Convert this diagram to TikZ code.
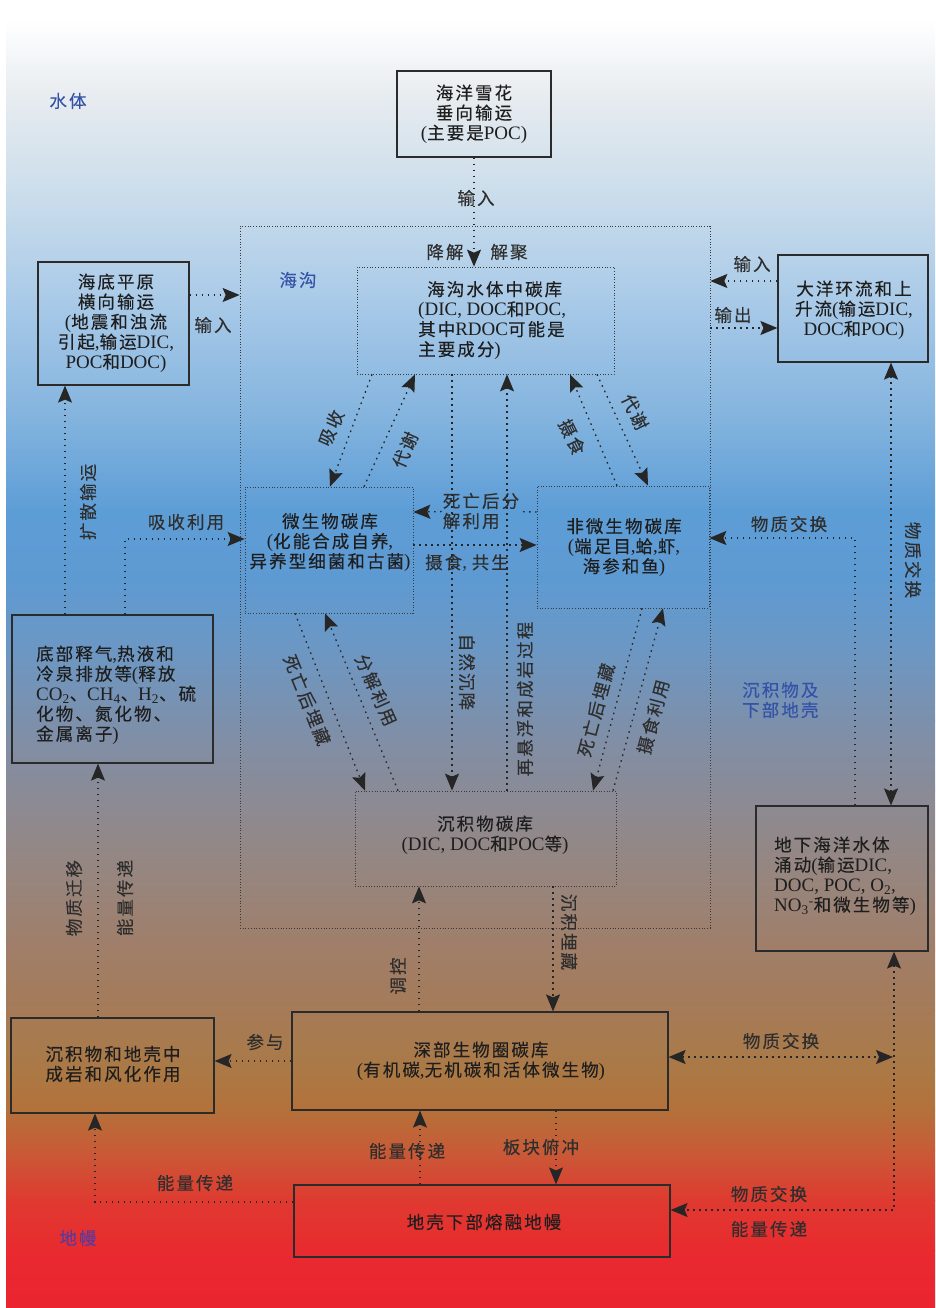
\documentclass[tikz,border=0pt]{standalone}
\usepackage{fontspec}
\setmainfont{Liberation Serif}
\newfontfamily\cjkf{Noto Sans CJK SC}[Scale=0.92, LetterSpace=12, FakeBold=0.25]
\usetikzlibrary{arrows.meta}
% automatic font switching between Latin and CJK characters
\newXeTeXintercharclass\cjkcls
\newcount\cc
\cc=0
\loop \XeTeXcharclass\cc=0 \advance\cc by 1 \ifnum\cc<"3000 \repeat
\cc="3000
\loop \XeTeXcharclass\cc=\cjkcls \advance\cc by 1 \ifnum\cc<"A000 \repeat
\cc="FF00
\loop \XeTeXcharclass\cc=\cjkcls \advance\cc by 1 \ifnum\cc<"FFF0 \repeat
\XeTeXinterchartokenstate=1
\XeTeXinterchartoks 0 \cjkcls = {\cjkf}
\XeTeXinterchartoks 4095 \cjkcls = {\cjkf}
\XeTeXinterchartoks \cjkcls 0 = {\rmfamily}
\newcommand\mainf{\rmfamily\fontsize{19pt}{20pt}\selectfont}
\definecolor{g0}{HTML}{FFFFFF}
\definecolor{g1}{HTML}{FFFFFF}
\definecolor{g2}{HTML}{E6EBEF}
\definecolor{g3}{HTML}{C9DCEB}
\definecolor{g4}{HTML}{A9CAE8}
\definecolor{g5}{HTML}{82B3DE}
\definecolor{g6}{HTML}{5D9DD6}
\definecolor{g7}{HTML}{5E9AD2}
\definecolor{g8}{HTML}{6C97C3}
\definecolor{g9}{HTML}{7C90AC}
\definecolor{g10}{HTML}{8A8B97}
\definecolor{g11}{HTML}{968680}
\definecolor{g12}{HTML}{A07E68}
\definecolor{g13}{HTML}{A57B58}
\definecolor{g14}{HTML}{AB7945}
\definecolor{g15}{HTML}{B4713A}
\definecolor{g16}{HTML}{C85B37}
\definecolor{g17}{HTML}{DF3A30}
\definecolor{g18}{HTML}{E92A2F}
\definecolor{g19}{HTML}{EB2430}
\definecolor{boxc}{HTML}{2B2B2B}
\definecolor{dboxc}{HTML}{3A3A3A}
\definecolor{linec}{HTML}{262626}
\definecolor{txtc}{HTML}{1E1E1E}
\definecolor{lblc}{HTML}{2E2E2E}
\definecolor{regc}{HTML}{3453A8}
\definecolor{mantc}{HTML}{5B3A9E}
\tikzset{
  sbox/.style={draw=boxc, line width=1.2pt, inner sep=0pt},
  dbox/.style={draw=dboxc, line width=0.7pt, dash pattern=on 0.8pt off 1.9pt, inner sep=0pt},
  txt/.style={inner sep=0pt, align=center, text=txtc, font=\mainf},
  lbl/.style={inner sep=1pt, align=center, text=lblc, font=\mainf},
  region/.style={inner sep=0pt, align=left, text=regc, font=\mainf},
  tipa/.tip={Stealth[length=17pt,width=14pt,inset=3pt]},
  conn/.style={draw=linec, line width=1.3pt, dash pattern=on 1.6pt off 4.4pt, -tipa},
  conn2/.style={draw=linec, line width=1.3pt, dash pattern=on 1.6pt off 4.4pt, tipa-tipa},
}
\begin{document}
\begin{tikzpicture}[x=1pt,y=-1pt]
\useasboundingbox (0,0) rectangle (935,1308);
% background gradient
\foreach \ya/\ca/\yb/\cb in {0/g0/20/g1, 20/g1/100/g2, 100/g2/200/g3, 200/g3/300/g4, 300/g4/420/g5, 420/g5/510/g6, 510/g6/580/g7, 580/g7/650/g8, 650/g8/720/g9, 720/g9/790/g10, 790/g10/870/g11, 870/g11/950/g12, 950/g12/1010/g13, 1010/g13/1070/g14, 1070/g14/1110/g15, 1110/g15/1150/g16, 1150/g16/1200/g17, 1200/g17/1250/g18, 1250/g18/1308/g19}
  \shade[top color=\ca, bottom color=\cb] (6,\ya) rectangle (935,\yb+0.6);

% region labels
\node[region] (r-water) at (68,101) {水体};
\node[region] (r-trench) at (298,280) {海沟};
\node[region, anchor=west] (r-sed) at (742,700) {沉积物及\\下部地壳};
\node[region, text=mantc] (r-mantle) at (78,1238) {地幔};

% solid boxes
\node[sbox, minimum width=154pt, minimum height=86pt] (snow) at (474,114) {};
\node[txt] (t-snow) at (474,114) {海洋雪花\\垂向输运\\(主要是POC)};
\node[sbox, minimum width=151pt, minimum height=123pt] (plain) at (113.5,323.5) {};
\node[txt] (t-plain) at (116,323) {海底平原\\横向输运\\(地震和浊流\\引起,输运DIC,\\POC和DOC)};
\node[sbox, minimum width=150pt, minimum height=107pt] (ocean) at (853,308.5) {};
\node[txt] (t-ocean) at (854,310) {大洋环流和上\\升流(输运DIC,\\DOC和POC)};
\node[sbox, minimum width=201pt, minimum height=148pt] (vent) at (112.5,689) {};
\node[txt, align=left, anchor=west] (t-vent) at (36,695) {底部释气,热液和\\冷泉排放等(释放\\CO\textsubscript{2}、CH\textsubscript{4}、H\textsubscript{2}、硫\\化物、氮化物、\\金属离子)};
\node[sbox, minimum width=172pt, minimum height=145pt] (under) at (842,878.5) {};
\node[txt, align=left, anchor=west] (t-under) at (774,876) {地下海洋水体\\涌动(输运DIC,\\DOC, POC, O\textsubscript{2},\\NO\textsubscript{3}\textsuperscript{-}和微生物等)};
\node[sbox, minimum width=203pt, minimum height=95pt] (diag) at (112.5,1065.5) {};
\node[txt] (t-diag) at (113,1064) {沉积物和地壳中\\成岩和风化作用};
\node[sbox, minimum width=376pt, minimum height=98pt] (deep) at (480,1061) {};
\node[txt] (t-deep) at (481,1061) {深部生物圈碳库\\(有机碳,无机碳和活体微生物)};
\node[sbox, minimum width=376pt, minimum height=72pt] (mantle) at (482,1221) {};
\node[txt] (t-mantle) at (484,1222) {地壳下部熔融地幔};

% dotted boxes
\node[dbox, minimum width=470pt, minimum height=702pt] (T) at (475,577) {};
\node[dbox, minimum width=257pt, minimum height=107pt] (W) at (485.5,320.5) {};
\node[txt, align=left, anchor=west] (t-W) at (418,320.5) {\hspace*{9pt}海沟水体中碳库\\(DIC, DOC和POC,\\其中RDOC可能是\\主要成分)};
\node[dbox, minimum width=168pt, minimum height=126pt] (M) at (329,550) {};
\node[txt] (t-M) at (330,542.5) {微生物碳库\\(化能合成自养,\\异养型细菌和古菌)};
\node[dbox, minimum width=172pt, minimum height=122pt] (N) at (623,547) {};
\node[txt] (t-N) at (624,547.5) {非微生物碳库\\(端足目,蛤,虾,\\海参和鱼)};
\node[dbox, minimum width=261pt, minimum height=95pt] (S) at (485.5,838.5) {};
\node[txt] (t-S) at (485,835) {沉积物碳库\\(DIC, DOC和POC等)};

% free ends
\coordinate (xr) at (893,1057);
\coordinate (cr) at (894,1210);

% connector labels
\node[lbl] (l-in1) at (476,198) {输入};
\node[lbl] (l-deg) at (445,252) {降解};
\node[lbl] (l-dis) at (509,252) {解聚};
\node[lbl] (l-in2) at (213,325) {输入};
\node[lbl] (l-in3) at (752,264) {输入};
\node[lbl] (l-out) at (733,315) {输出};
\node[lbl, rotate=66] (l-abs) at (331,428) {吸收};
\node[lbl, rotate=66] (l-met1) at (405,450) {代谢};
\node[lbl, rotate=-90] (l-sink) at (467,672) {自然沉降};
\node[lbl, rotate=90] (l-res) at (525,699) {再悬浮和成岩过程};
\node[lbl] (l-feed) at (467,563) {摄食, 共生};
\node[lbl, align=left] (l-death) at (481,511) {死亡后分\\解利用};
\node[lbl, rotate=-68] (l-bur1) at (307,700) {死亡后埋藏};
\node[lbl, rotate=-66] (l-dec) at (376,690) {分解利用};
\node[lbl, rotate=75] (l-bur2) at (596,710) {死亡后埋藏};
\node[lbl, rotate=75] (l-eat) at (653,717) {摄食利用};
\node[lbl, rotate=-64] (l-met2) at (635,412) {代谢};
\node[lbl, rotate=-64] (l-gr) at (572,437) {摄食};
\node[lbl, rotate=90] (l-diff) at (88,502) {扩散输运};
\node[lbl] (l-up) at (186,522) {吸收利用};
\node[lbl, rotate=90] (l-mig) at (74,898) {物质迁移};
\node[lbl, rotate=90] (l-en1) at (125,898) {能量传递};
\node[lbl, rotate=-90] (l-bur3) at (569,932) {沉积埋藏};
\node[lbl, rotate=90] (l-reg) at (398,976) {调控};
\node[lbl] (l-par) at (265,1042) {参与};
\node[lbl] (l-ex1) at (781,1041) {物质交换};
\node[lbl] (l-ex2) at (769,1194) {物质交换};
\node[lbl] (l-en2) at (769,1229) {能量传递};
\node[lbl] (l-en3) at (407,1151) {能量传递};
\node[lbl] (l-sub) at (541,1147) {板块俯冲};
\node[lbl] (l-en4) at (195,1183) {能量传递};
\node[lbl] (l-ex3) at (789,524) {物质交换};
\node[lbl, rotate=-90] (l-ex4) at (913,560) {物质交换};

% connectors
\draw[conn] (snow.south) -- (snow.south |- W.north);
\draw[conn] (plain.east |- 0,295) -- (T.west |- 0,295);
\draw[conn] (ocean.west |- 0,281) -- (T.east |- 0,281);
\draw[conn] (T.east |- 0,328) -- (ocean.west |- 0,328);
\draw[conn] (W.south -| 372,0) -- (M.north -| 330,0);
\draw[conn] (M.north -| 364,0) -- (W.south -| 415,0);
\draw[conn] (W.south -| 452,0) -- (S.north -| 452,0);
\draw[conn] (S.north -| 507,0) -- (W.south -| 507,0);
\draw[conn] (M.east |- 0,545) -- (N.west |- 0,545);
\draw[conn] (N.west |- 0,512) -- (l-death) -- (M.east |- 0,512);
\draw[conn] (M.south -| 295,0) -- (S.north -| 365,0);
\draw[conn] (S.north -| 398,0) -- (M.south -| 325,0);
\draw[conn] (N.south -| 642,0) -- (S.north -| 593,0);
\draw[conn] (S.north -| 613,0) -- (N.south -| 663,0);
\draw[conn] (W.south -| 597,0) -- (N.north -| 648,0);
\draw[conn] (N.north -| 617,0) -- (W.south -| 570,0);
\draw[conn] (vent.north -| 65,0) -- (plain.south -| 65,0);
\draw[conn] (vent.north -| 125,0) |- (M.west |- 0,539);
\draw[conn] (diag.north -| 98,0) -- (vent.south -| 98,0);
\draw[conn] (S.south -| 553,0) -- (deep.north -| 553,0);
\draw[conn] (deep.north -| 419,0) -- (S.south -| 419,0);
\draw[conn] (deep.west |- 0,1061) -- (diag.east |- 0,1061);
\draw[conn2] (deep.east |- 0,1057) -- (xr);
\draw[conn2] (under.south -| 894,0) -- (cr) -- (mantle.east |- 0,1210);
\draw[conn] (mantle.north -| 420,0) -- (deep.south -| 420,0);
\draw[conn] (deep.south -| 556,0) -- (mantle.north -| 556,0);
\draw[conn] (mantle.west |- 0,1202) -| (diag.south -| 95,0);
\draw[conn] (under.north -| 855,0) |- (N.east |- 0,538);
\draw[conn2] (ocean.south -| 891,0) -- (under.north -| 891,0);
\end{tikzpicture}
\end{document}
